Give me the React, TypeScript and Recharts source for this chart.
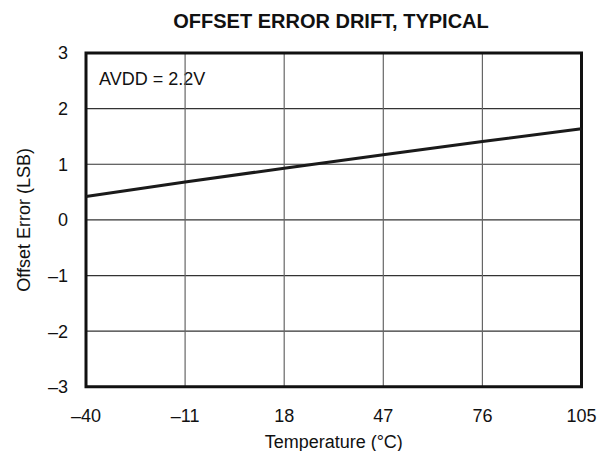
import React from "react";
import {
  LineChart,
  Line,
  XAxis,
  YAxis,
  CartesianGrid,
  ReferenceArea,
} from "recharts";

const temperatures = [-40, -11, 18, 47, 76, 105];
const offsetErrors = [0.42, 0.68, 0.93, 1.17, 1.41, 1.64];
const xTicks = [-40, -11, 18, 47, 76, 105];
const yTicks = [-3, -2, -1, 0, 1, 2, 3];
const title = "OFFSET ERROR DRIFT, TYPICAL";
const annotation = "AVDD = 2.2V";
const xLabel = "Temperature (\u00B0C)";
const yLabel = "Offset Error (LSB)";

const data = temperatures.map((t, i) => ({ t, v: offsetErrors[i] }));

const fmt = (v: number) => (v < 0 ? "\u2013" + Math.abs(v) : String(v));

const FONT = "'Liberation Sans', Arial, Helvetica, sans-serif";

export default function App() {
  return (
    <div
      style={{
        position: "relative",
        width: 601,
        height: 451,
        overflow: "hidden",
        fontFamily: FONT,
        background: "#fff",
      }}
    >
      <style>{`html,body{margin:0;padding:0;overflow:hidden;} svg.recharts-surface{overflow:visible;} .recharts-wrapper{overflow:visible;}`}</style>
      <div
        style={{
          position: "absolute",
          left: 31,
          width: 600,
          top: 10.5,
          lineHeight: 1,
          textAlign: "center",
          fontWeight: "bold",
          fontSize: 20,
          color: "#111",
          whiteSpace: "nowrap",
        }}
      >
        {title}
      </div>
      <div
        style={{
          position: "absolute",
          left: 99,
          top: 70,
          lineHeight: 1,
          fontSize: 18,
          color: "#111",
          whiteSpace: "nowrap",
        }}
      >
        {annotation}
      </div>
      <div style={{ position: "absolute", left: 8, top: 8 }}>
        <LineChart
          width={580}
          height={443}
          data={data}
          margin={{ top: 45, right: 6.5, bottom: 0, left: 0 }}
        >
          <CartesianGrid stroke="#333" strokeWidth={1.2} vertical={false} />
          <CartesianGrid stroke="#666" strokeWidth={1.2} horizontal={false} />
          <XAxis
            dataKey="t"
            type="number"
            domain={[-40, 105]}
            ticks={xTicks}
            interval={0}
            tickFormatter={fmt}
            tickLine={false}
            axisLine={false}
            tickSize={0}
            tickMargin={22}
            height={64.2}
            tick={{ fill: "#111", fontSize: 18, fontFamily: FONT }}
            label={{
              value: xLabel,
              position: "insideBottom",
              offset: 3.5,
              fill: "#111",
              fontSize: 18,
              fontFamily: FONT,
            }}
          />
          <YAxis
            type="number"
            domain={[-3, 3]}
            ticks={yTicks}
            interval={0}
            tickFormatter={fmt}
            tickLine={false}
            axisLine={false}
            tickSize={0}
            tickMargin={18}
            width={78}
            tick={{ fill: "#111", fontSize: 18, fontFamily: FONT }}
            label={{
              value: yLabel,
              angle: -90,
              position: "insideLeft",
              offset: 15.5,
              style: { textAnchor: "middle" },
              fill: "#111",
              fontSize: 18,
              fontFamily: FONT,
            }}
          />
          <ReferenceArea
            x1={-40}
            x2={105}
            y1={-3}
            y2={3}
            fill="none"
            fillOpacity={0}
            stroke="#111"
            strokeWidth={3}
            ifOverflow="visible"
          />
          <Line
            dataKey="v"
            stroke="#1a1a1a"
            strokeWidth={3}
            dot={false}
            isAnimationActive={false}
            type="linear"
          />
        </LineChart>
      </div>
    </div>
  );
}
